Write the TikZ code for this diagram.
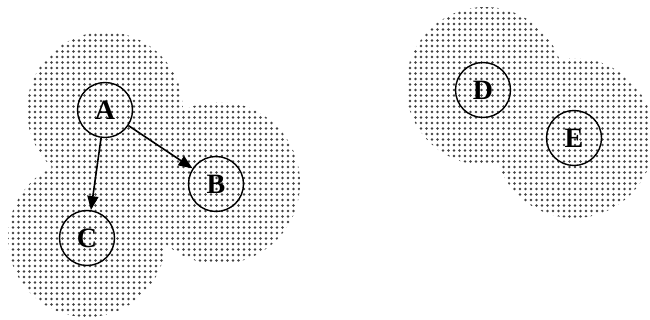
\documentclass[tikz,border=0pt]{standalone}
\usepackage{fontspec}
\setmainfont{Liberation Serif}
\usetikzlibrary{arrows.meta}
\tikzset{
  dotfill/.style={fill=black!75},
  vertex/.style={circle,draw,line width=1.4pt,minimum size=55pt,inner sep=0pt,
    font=\fontsize{28}{28}\selectfont\bfseries},
  link/.style={line width=1.6pt,-{Triangle[length=14pt,width=11pt]}}
}
\begin{document}
\begin{tikzpicture}[x=1pt,y=-1pt]
\useasboundingbox (0,0) rectangle (650,320);
\begin{scope}
\clip (0,0) rectangle (650,320);
\clip (105,110) circle[radius=78] (219,183) circle[radius=81]
      (87,238) circle[radius=79];
\fill[dotfill] \foreach \x in {2,7.5,...,305} {\foreach \y in {2,7.5,...,320} {(\x,\y) circle[radius=1.3]}};
\end{scope}
\begin{scope}
\clip (0,0) rectangle (650,320);
\clip (485,86) circle[radius=79] (574,138) circle[radius=80];
\fill[dotfill] \foreach \x in {404.5,410,...,650} {\foreach \y in {2,7.5,...,222} {(\x,\y) circle[radius=1.3]}};
\end{scope}
\node[vertex] (A) at (105,110) {A};
\node[vertex] (B) at (216,184) {B};
\node[vertex] (C) at (87,238) {C};
\node[vertex] (D) at (483,90) {D};
\node[vertex] (E) at (574,138) {E};
\draw[link] (A) -- (B);
\draw[link] (A) -- (C);
\end{tikzpicture}
\end{document}
